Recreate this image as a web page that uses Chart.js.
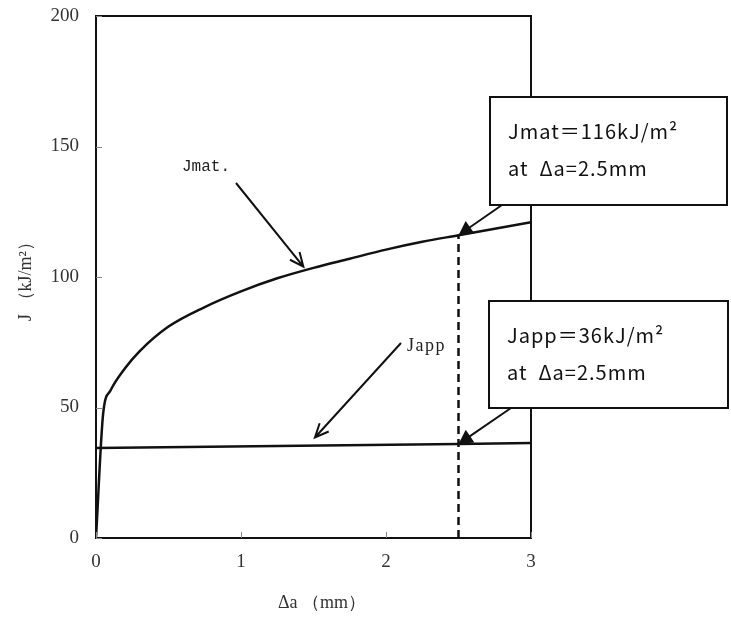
<!DOCTYPE html>
<html lang="ja">
<head>
<meta charset="UTF-8">
<title>J - Δa</title>
<script src="https://cdn.jsdelivr.net/npm/chart.js@4.4.1/dist/chart.umd.min.js"></script>
<style>
  html, body { margin: 0; padding: 0; background: #fff; }
  #wrap { width: 731px; height: 619px; }
</style>
</head>
<body>
<div id="wrap"><canvas id="jr"></canvas></div>
<script>
// 材料の J-R 曲線 (Jmat) と 作用 J 値 (Japp)
const daMat = [0, 0.05, 0.1, 0.2, 0.3, 0.5, 0.75, 1, 1.25, 1.5, 1.75, 2, 2.25, 2.5, 2.75, 3];
const jMat = [0, 48, 56.5, 65, 71.5, 81, 88.5, 94.5, 99.5, 103.5, 107, 110.5, 113.5, 116, 118.5, 121];
const daApp = [0, 2.5, 3];
const jApp = [34.5, 36, 36.4];
const xTicks = [0, 1, 2, 3];
const yTicks = [0, 50, 100, 150, 200];
// 評価点
const daRead = 2.5;
const jMatRead = 116;
const jAppRead = 36;

const SERIF = '"Liberation Serif", "DejaVu Serif", serif';
const GOTHIC = '"Noto Sans CJK JP", "Liberation Sans", sans-serif';

const pts = (xs, ys) => xs.map((x, i) => ({ x: x, y: ys[i] }));

function arrowV(ctx, x1, y1, x2, y2) {
  const a = Math.atan2(y2 - y1, x2 - x1), L = 15, w = 0.42;
  ctx.beginPath();
  ctx.moveTo(x1, y1); ctx.lineTo(x2, y2);
  ctx.moveTo(x2 - L * Math.cos(a - w), y2 - L * Math.sin(a - w));
  ctx.lineTo(x2, y2);
  ctx.lineTo(x2 - L * Math.cos(a + w), y2 - L * Math.sin(a + w));
  ctx.stroke();
}

function arrowFilled(ctx, x1, y1, x2, y2) {
  const a = Math.atan2(y2 - y1, x2 - x1), L = 16, w = 0.5;
  ctx.beginPath();
  ctx.moveTo(x1, y1); ctx.lineTo(x2 - 10 * Math.cos(a), y2 - 10 * Math.sin(a));
  ctx.stroke();
  ctx.beginPath();
  ctx.moveTo(x2, y2);
  ctx.lineTo(x2 - L * Math.cos(a - w), y2 - L * Math.sin(a - w));
  ctx.lineTo(x2 - L * Math.cos(a + w), y2 - L * Math.sin(a + w));
  ctx.closePath();
  ctx.fill();
}

function box(ctx, x, y, w, h, lines) {
  ctx.fillStyle = '#fff';
  ctx.fillRect(x, y, w, h);
  ctx.lineWidth = 2;
  ctx.strokeStyle = '#111';
  ctx.strokeRect(x, y, w, h);
  ctx.fillStyle = '#111';
  ctx.font = '20px ' + GOTHIC;
  ctx.letterSpacing = '1px';
  ctx.textAlign = 'left';
  ctx.textBaseline = 'middle';
  lines.forEach((t, i) => ctx.fillText(t, x + 18, y + 34 + i * 37));
  ctx.letterSpacing = '0px';
}

const decorations = {
  id: 'decorations',
  afterDatasetsDraw(chart) {
    const { ctx, chartArea: ca, scales: { x, y } } = chart;
    ctx.save();
    // 枠
    ctx.strokeStyle = '#111';
    ctx.lineWidth = 2;
    ctx.strokeRect(ca.left, ca.top, ca.right - ca.left, ca.bottom - ca.top);
    // 内向き目盛
    ctx.strokeStyle = '#888';
    ctx.lineWidth = 1;
    ctx.beginPath();
    yTicks.forEach(v => {
      const py = Math.round(y.getPixelForValue(v)) + 0.5;
      ctx.moveTo(ca.left, py); ctx.lineTo(ca.left + 6, py);
    });
    xTicks.forEach(v => {
      const px = Math.round(x.getPixelForValue(v)) + 0.5;
      ctx.moveTo(px, ca.bottom); ctx.lineTo(px, ca.bottom - 6);
    });
    ctx.stroke();

    // 横軸タイトル (少し右寄せ)
    ctx.fillStyle = '#333';
    ctx.textAlign = 'center';
    ctx.textBaseline = 'middle';
    ctx.font = '18px ' + SERIF;
    ctx.fillText('Δa （mm）', 322, 603);

    // 曲線ラベルと矢印
    ctx.fillStyle = '#222';
    ctx.textAlign = 'left';
    ctx.font = '16px "Liberation Mono", "DejaVu Sans Mono", monospace';
    ctx.fillText('Jmat.', 182, 167);
    ctx.font = '18px ' + SERIF;
    ctx.letterSpacing = '1.5px';
    ctx.fillText('Japp', 407, 346);
    ctx.letterSpacing = '0px';

    ctx.strokeStyle = '#111';
    ctx.fillStyle = '#111';
    ctx.lineWidth = 2;
    arrowV(ctx, 236, 183, x.getPixelForValue(1.43), y.getPixelForValue(104));
    arrowV(ctx, 401, 343, x.getPixelForValue(1.51), y.getPixelForValue(38.5));

    // 評価点の注記
    box(ctx, 490, 97, 237, 108, ['Jmat＝116kJ/m²', 'at  Δa=2.5mm']);
    box(ctx, 489, 301, 239, 107, ['Japp＝36kJ/m²', 'at  Δa=2.5mm']);

    ctx.lineWidth = 2;
    ctx.strokeStyle = '#111';
    ctx.fillStyle = '#111';
    arrowFilled(ctx, 502, 205, x.getPixelForValue(daRead), y.getPixelForValue(jMatRead));
    arrowFilled(ctx, 511, 408, x.getPixelForValue(daRead), y.getPixelForValue(jAppRead));
    ctx.restore();
  }
};

new Chart(document.getElementById('jr'), {
  type: 'scatter',
  data: {
    datasets: [
      {
        label: 'Jmat',
        data: pts(daMat, jMat),
        showLine: true,
        borderColor: '#111',
        borderWidth: 2.5,
        pointRadius: 0,
        cubicInterpolationMode: 'monotone',
      },
      {
        label: 'Japp',
        data: pts(daApp, jApp),
        showLine: true,
        borderColor: '#111',
        borderWidth: 2.5,
        pointRadius: 0,
      },
      {
        label: 'Δa=2.5mm',
        data: [{ x: daRead, y: 0 }, { x: daRead, y: jMatRead }],
        showLine: true,
        borderColor: '#111',
        borderWidth: 2.5,
        borderDash: [8, 5],
        pointRadius: 0,
      },
    ],
  },
  options: {
    responsive: true,
    maintainAspectRatio: false,
    animation: false,
    layout: { padding: { top: 16, right: 200, left: 0, bottom: 0 } },
    plugins: { legend: { display: false }, tooltip: { enabled: false } },
    scales: {
      x: {
        type: 'linear',
        min: 0,
        max: 3,
        afterFit: s => { s.height = 81; s.paddingLeft = 0; s.paddingRight = 0; },
        afterBuildTicks: s => { s.ticks = xTicks.map(v => ({ value: v })); },
        grid: { display: false, drawTicks: false },
        border: { display: false },
        ticks: { padding: 13, color: '#333', font: { family: SERIF, size: 19 } },
      },
      y: {
        type: 'linear',
        min: 0,
        max: 200,
        afterFit: s => { s.width = 96; s.paddingTop = 0; s.paddingBottom = 0; },
        afterBuildTicks: s => { s.ticks = yTicks.map(v => ({ value: v })); },
        grid: { display: false, drawTicks: false },
        border: { display: false },
        ticks: { padding: 17, color: '#333', font: { family: SERIF, size: 19 } },
        title: {
          display: true,
          text: 'J （kJ/m²）',
          color: '#333',
          padding: { top: 15 },
          font: { family: SERIF, size: 18 },
        },
      },
    },
  },
  plugins: [decorations],
});
</script>
</body>
</html>
